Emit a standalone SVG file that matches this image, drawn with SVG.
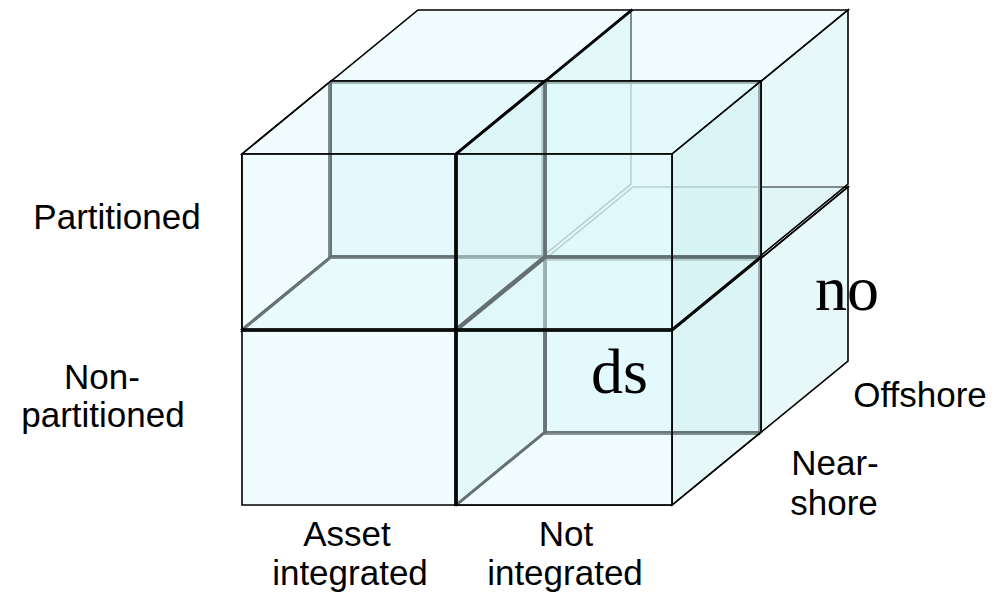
<svg xmlns="http://www.w3.org/2000/svg" width="1000" height="600" viewBox="0 0 1000 600">
<style>
.f{fill:#def9fb;fill-opacity:.45;stroke:#000;stroke-width:1.6}
.s{fill:#cdeeee;fill-opacity:.45;stroke:#000;stroke-width:1.6}
.h{fill:none;stroke:#000;stroke-width:1.6}
.lbl{font-family:"Liberation Sans",Arial,sans-serif;font-size:35px;fill:#000;text-anchor:middle}
.big{font-family:"Liberation Serif","Times New Roman",serif;font-size:64px;fill:#000}
</style>
<rect width="1000" height="600" fill="#fff"/>
<g id="cubes">
<g id="cube-bottom-right-back">
<polygon class="f" points="544,260 759,260 848,187 633,187"/>
<polygon class="s" points="759,260 848,187 848,361 759,434"/>
<polygon class="f" points="544,260 759,260 759,434 544,434"/>
</g>
<g id="cube-top-left-back">
<polygon class="f" points="329,83 542,83 631,10 418,10"/>
<polygon class="s" points="542,83 631,10 631,184 542,257"/>
<polygon class="f" points="329,83 542,83 542,257 329,257"/>
</g>
<g id="cube-top-right-back">
<polygon class="f" points="544,83 759,83 848,10 633,10"/>
<polygon class="s" points="759,83 848,10 848,184 759,257"/>
<polygon class="f" points="544,83 759,83 759,257 544,257"/>
</g>
<g id="cube-bottom-left-front">
<polygon class="f" points="242,331 455,331 544,258 331,258"/>
<polygon class="s" points="455,331 544,258 544,432 455,505"/>
<polygon class="f" points="242,331 455,331 455,505 242,505"/>
</g>
<g id="cube-bottom-right-front">
<polygon class="f" points="546,258 761,258 761,432 546,432"/>
<polygon class="h" points="457,331 546,258 546,432 457,505"/>
<polygon class="h" points="457,505 672,505 761,432 546,432"/>
<polygon class="f" points="457,331 672,331 761,258 546,258"/>
<polygon class="s" points="672,331 761,258 761,432 672,505"/>
<polygon class="f" points="457,331 672,331 672,505 457,505"/>
</g>
<g id="cube-top-left-front">
<polygon class="f" points="331,81 544,81 544,256 331,256"/>
<polygon class="h" points="242,154 331,81 331,256 242,329"/>
<polygon class="h" points="242,329 455,329 544,256 331,256"/>
<polygon class="f" points="242,154 455,154 544,81 331,81"/>
<polygon class="s" points="455,154 544,81 544,256 455,329"/>
<polygon class="f" points="242,154 455,154 455,329 242,329"/>
</g>
<g id="cube-top-right-front">
<polygon class="f" points="546,81 761,81 761,256 546,256"/>
<polygon class="h" points="457,154 546,81 546,256 457,329"/>
<polygon class="h" points="457,329 672,329 761,256 546,256"/>
<polygon class="f" points="457,154 672,154 761,81 546,81"/>
<polygon class="s" points="672,154 761,81 761,256 672,329"/>
<polygon class="f" points="457,154 672,154 672,329 457,329"/>
</g>
</g>
<g id="labels">
<text class="lbl" x="117" y="229">Partitioned</text>
<text class="lbl" x="102" y="389">Non-</text>
<text class="lbl" x="103" y="427">partitioned</text>
<text class="lbl" x="347" y="546">Asset</text>
<text class="lbl" x="350" y="585">integrated</text>
<text class="lbl" x="566" y="546">Not</text>
<text class="lbl" x="565" y="585">integrated</text>
<text class="lbl" x="835" y="475">Near-</text>
<text class="lbl" x="834" y="515">shore</text>
<text class="lbl" x="920" y="407">Offshore</text>
<text class="big" x="591" y="393">ds</text>
<text class="big" x="815" y="310">no</text>
</g>
</svg>
